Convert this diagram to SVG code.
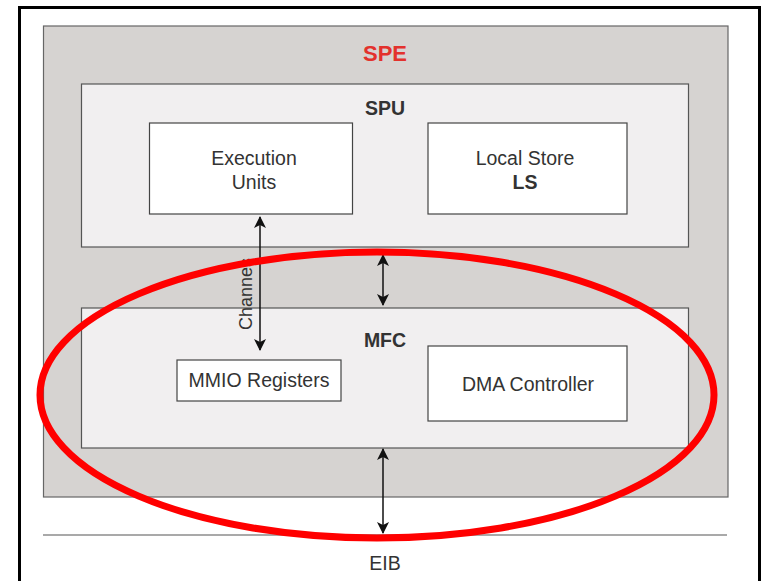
<svg xmlns="http://www.w3.org/2000/svg" width="763" height="581" viewBox="0 0 763 581">
<defs>
<style>
.t{font-family:"Liberation Sans",Arial,sans-serif;fill:#333;font-size:19.5px;text-anchor:middle}
.b{font-weight:bold}
.box{fill:#fff;stroke:#444;stroke-width:1.2}
.panel{fill:#f1eff0;stroke:#555;stroke-width:1.2}
.conn{stroke:#111;stroke-width:1.5;fill:none;marker-start:url(#ah);marker-end:url(#ah)}
</style>
<marker id="ah" viewBox="0 0 12 12" refX="11" refY="6" markerWidth="12" markerHeight="12" markerUnits="userSpaceOnUse" orient="auto-start-reverse">
<path d="M0,0 L12,6 L0,12 L3,6 Z" fill="#111"/>
</marker>
</defs>
<rect x="0" y="0" width="763" height="581" fill="#fff"/>
<rect x="19.5" y="7.5" width="740" height="580" fill="none" stroke="#000" stroke-width="3"/>
<g id="spe">
<rect x="43.5" y="26" width="684.5" height="471" fill="#d6d3d1" stroke="#666" stroke-width="1.2"/>
<text class="t b" x="385" y="61" style="fill:#e3312d;font-size:22px">SPE</text>
</g>
<g id="spu">
<rect class="panel" x="81.5" y="84" width="607" height="163"/>
<text class="t b" x="385" y="115">SPU</text>
</g>
<g id="exec">
<rect class="box" x="149.5" y="123" width="203" height="91"/>
<text class="t" x="254" y="165">Execution</text>
<text class="t" x="254" y="189">Units</text>
</g>
<g id="ls">
<rect class="box" x="428" y="123" width="199" height="91"/>
<text class="t" x="525" y="165">Local Store</text>
<text class="t b" x="525" y="189">LS</text>
</g>
<g id="mfc">
<rect class="panel" x="81.5" y="308" width="607" height="140"/>
<text class="t b" x="385" y="347">MFC</text>
</g>
<g id="mmio">
<rect class="box" x="177" y="360" width="164" height="41"/>
<text class="t" x="259" y="387">MMIO Registers</text>
</g>
<g id="dma">
<rect class="box" x="428" y="346" width="199" height="75"/>
<text class="t" x="528" y="391">DMA Controller</text>
</g>
<g id="eib">
<line x1="43" y1="535" x2="727" y2="535" stroke="#555" stroke-width="1.2"/>
<text class="t" x="385" y="570">EIB</text>
</g>
<g id="connectors">
<line class="conn" x1="260" y1="217" x2="260" y2="350"/>
<line class="conn" x1="383" y1="255" x2="383" y2="305"/>
<line class="conn" x1="383" y1="449" x2="383" y2="533"/>
<text class="t" x="0" y="0" transform="translate(252,294) rotate(-90)" style="font-size:18px">Channes</text>
</g>
<ellipse cx="377" cy="395" rx="337" ry="143" fill="none" stroke="#ff0000" stroke-width="7"/>
</svg>
